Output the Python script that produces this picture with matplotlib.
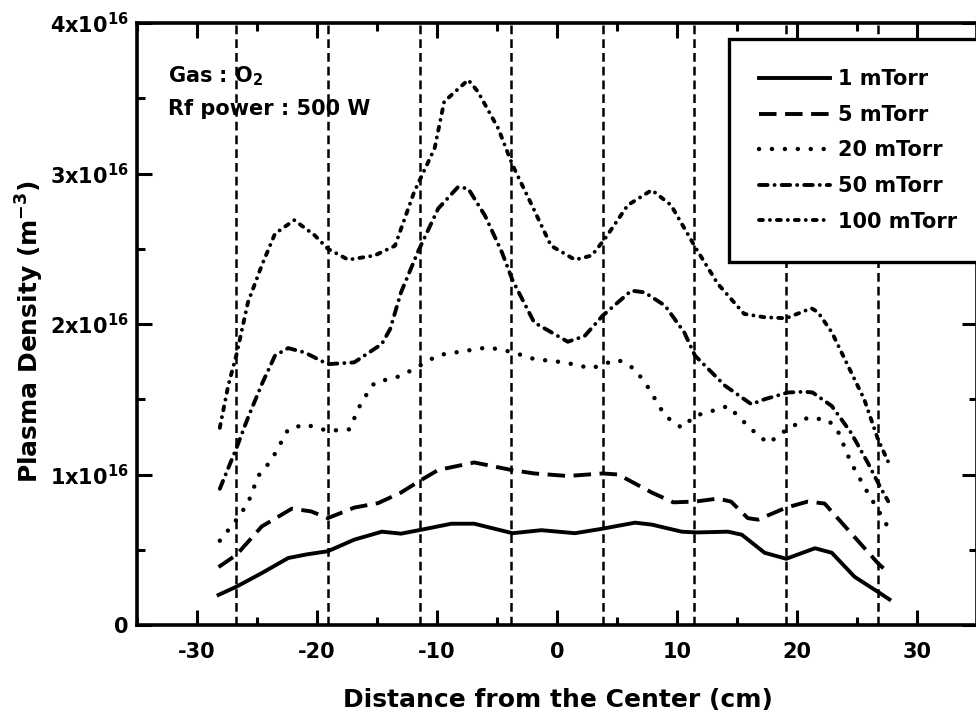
import matplotlib
matplotlib.use("Agg")
import matplotlib.pyplot as plt
import numpy as np
from matplotlib.ticker import MultipleLocator

plt.rcParams['font.family'] = ['DejaVu Sans']
plt.rcParams['font.weight'] = 'bold'
plt.rcParams['mathtext.default'] = 'bf'
plt.rcParams['axes.unicode_minus'] = False

# ---------------- data (density in units of 1e16 m^-3) ----------------
x_1 = [-28.2, -26.7, -24.6, -22.4, -20.8, -19.1, -16.9, -14.6, -13.0, -11.5, -8.8, -6.9, -3.7, -1.3,
       1.5, 3.8, 6.5, 7.9, 10.4, 11.6, 14.25, 15.4, 17.3, 19.1, 21.5, 22.9, 24.8, 26.75, 27.7]
n_1 = [0.20, 0.255, 0.345, 0.445, 0.47, 0.49, 0.567, 0.62, 0.607, 0.63, 0.673, 0.673, 0.61, 0.63,
       0.61, 0.64, 0.68, 0.667, 0.62, 0.615, 0.62, 0.60, 0.48, 0.44, 0.51, 0.48, 0.32, 0.22, 0.17]

x_5 = [-28.2, -26.7, -24.6, -22.1, -20.5, -19.1, -16.9, -14.9, -13.0, -11.5, -9.9, -6.9, -3.8, -1.9,
       0.9, 3.8, 5.1, 7.9, 9.7, 11.5, 13.4, 14.5, 15.9, 16.75, 19.1, 20.9, 22.3, 24.25, 26.75, 27.7]
n_5 = [0.385, 0.467, 0.655, 0.773, 0.755, 0.71, 0.78, 0.81, 0.88, 0.955, 1.03, 1.08, 1.03, 1.007,
       0.99, 1.007, 1.00, 0.88, 0.815, 0.82, 0.84, 0.82, 0.71, 0.70, 0.78, 0.82, 0.807, 0.633, 0.41, 0.34]

x_20 = [-28.1, -26.8, -25.75, -24.9, -23.8, -22.4, -21.0, -19.1, -17.3, -16.3, -15.2, -13.0, -11.5,
        -9.9, -5.75, -3.8, -1.9, 0.6, 2.9, 3.8, 5.1, 6.5, 7.6, 9.0, 10.4, 11.5, 13.4, 14.25, 16.2,
        17.6, 19.0, 20.9, 22.6, 23.4, 24.5, 25.9, 26.9, 27.7]
n_20 = [0.56, 0.69, 0.81, 0.99, 1.095, 1.30, 1.333, 1.29, 1.30, 1.48, 1.61, 1.655, 1.72,
        1.793, 1.845, 1.815, 1.767, 1.745, 1.705, 1.733, 1.762, 1.70, 1.578, 1.39, 1.31, 1.39, 1.433, 1.455, 1.30,
        1.207, 1.29, 1.378, 1.362, 1.29, 1.078, 0.878, 0.745, 0.633]

x_50 = [-28.1, -26.7, -25.75, -24.6, -23.5, -22.4, -21.0, -19.1, -16.9, -14.6, -13.9, -13.0, -11.6,
        -9.9, -8.25, -7.4, -6.0, -4.6, -3.7, -1.9, 0.9, 2.3, 3.8, 6.2, 7.3, 9.0, 10.6, 11.5, 14.0,
        16.2, 17.3, 19.25, 20.6, 21.3, 22.9, 24.5, 25.9, 26.9, 27.6]
n_50 = [0.905, 1.178, 1.378, 1.60, 1.79, 1.84, 1.81, 1.733, 1.745, 1.867, 1.967, 2.21, 2.478,
        2.767, 2.91, 2.90, 2.72, 2.478, 2.29, 2.01, 1.882, 1.92, 2.055, 2.222, 2.21, 2.122, 1.945, 1.79, 1.59,
        1.467, 1.50, 1.545, 1.55, 1.545, 1.455, 1.278, 1.078, 0.922, 0.822]

x_100 = [-28.1, -27.4, -26.7, -25.75, -24.6, -23.5, -21.9, -20.2, -19.1, -17.4, -15.2, -13.5, -11.9,
         -10.2, -9.4, -7.4, -6.6, -4.9, -3.7, -2.1, -0.5, 1.5, 2.9, 4.0, 5.9, 7.9, 9.5, 11.6, 13.4,
         15.6, 17.3, 19.1, 21.2, 21.75, 22.9, 24.25, 25.6, 26.75, 27.7]
n_100 = [1.31, 1.59, 1.80, 2.145, 2.39, 2.60, 2.69, 2.59, 2.50, 2.427, 2.455, 2.52, 2.878,
         3.167, 3.478, 3.622, 3.545, 3.30, 3.055, 2.79, 2.52, 2.427, 2.455, 2.567, 2.79, 2.89, 2.79, 2.50, 2.267,
         2.067, 2.045, 2.038, 2.105, 2.078, 1.945, 1.722, 1.50, 1.233, 1.067]

series_labels = ["1 mTorr", "5 mTorr", "20 mTorr", "50 mTorr", "100 mTorr"]
probe_x = [-26.75, -19.1, -11.45, -3.8, 3.8, 11.45, 19.1, 26.75]

xticks = [-30, -20, -10, 0, 10, 20, 30]
yticks = [0, 1e16, 2e16, 3e16, 4e16]
ytick_labels = ["0", r"1x10$^{16}$", r"2x10$^{16}$", r"3x10$^{16}$", r"4x10$^{16}$"]
scale = 1e16

# ---------------- figure ----------------
W, H = 976, 720
fig = plt.figure(figsize=(W / 100, H / 100), dpi=100)
ax = fig.add_axes([137 / W, 95 / H, 840 / W, 602 / H])

for xv in probe_x:
    ax.axvline(xv, color='black', lw=1.8, dashes=(3.5, 2.0), zorder=1)

lw = 2.8
styles = [
    dict(ls='-', lw=lw),
    dict(lw=lw, dashes=(4.5, 2.2)),
    dict(lw=3.2, dashes=(0.01, 2.9), dash_capstyle='round'),
    dict(lw=lw, dashes=(2.2, 1.8, 0.01, 1.8), dash_capstyle='round'),
    dict(lw=lw, dashes=(1.0, 1.8, 0.01, 1.8), dash_capstyle='round'),
]
data = [(x_1, n_1), (x_5, n_5), (x_20, n_20), (x_50, n_50), (x_100, n_100)]
for (xs, ns), lab, st in zip(data, series_labels, styles):
    ax.plot(xs, np.array(ns) * scale, color='black', label=lab, zorder=3, **st)

ax.set_xlim(-35, 35)
ax.set_ylim(0, 4e16)
ax.set_xticks(xticks)
ax.set_xticklabels([str(v) for v in xticks])
ax.set_yticks(yticks)
ax.set_yticklabels(ytick_labels)
ax.xaxis.set_minor_locator(MultipleLocator(5))
ax.yaxis.set_minor_locator(MultipleLocator(0.5e16))
ax.tick_params(which='both', direction='in', top=True, right=True, width=2.2)
ax.tick_params(which='major', length=10.5)
ax.tick_params(which='minor', length=6)
ax.tick_params(axis='x', which='major', labelsize=15, pad=12)
ax.tick_params(axis='y', which='major', labelsize=15, pad=6)
for sp in ax.spines.values():
    sp.set_linewidth(2.6)

fig.text(558 / W, 13 / H, "Distance from the Center (cm)", fontsize=18, fontweight='bold',
         ha='center', va='baseline')
fig.text(30 / W, 1 - 332 / H, r"Plasma Density (m$^{-3}$)", fontsize=18, fontweight='bold',
         ha='center', va='center', rotation=90)

ax.text(168 / W, 1 - 82 / H, r"Gas : O$_2$", transform=fig.transFigure, fontsize=15,
        fontweight='bold', ha='left', va='baseline', zorder=5)
ax.text(168 / W, 1 - 115 / H, "Rf power : 500 W", transform=fig.transFigure, fontsize=15,
        fontweight='bold', ha='left', va='baseline', zorder=5)

leg = ax.legend(loc='upper left', bbox_to_anchor=(729 / W, 1 - 39 / H),
                bbox_transform=fig.transFigure, fontsize=15, frameon=True, fancybox=False,
                framealpha=1, edgecolor='black', handlelength=3.4, handletextpad=0.4,
                borderpad=1.45, labelspacing=0.75, borderaxespad=0)
leg.get_frame().set_linewidth(2.4)
leg.set_zorder(10)
for t in leg.get_texts():
    t.set_fontweight('bold')

fig.savefig("out.png", dpi=100)
